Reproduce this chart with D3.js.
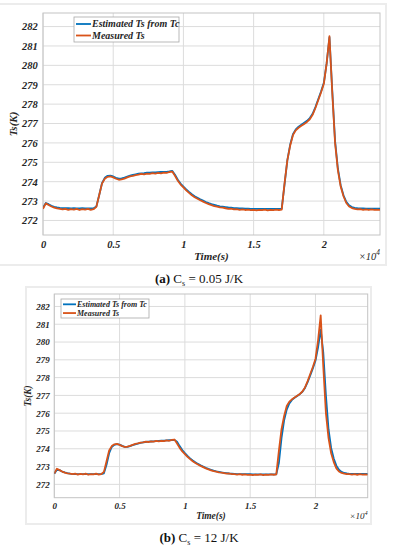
<!DOCTYPE html>
<html>
<head>
<meta charset="utf-8">
<script src="https://cdn.jsdelivr.net/npm/d3@7"></script>
<style>
  body { margin: 0; background: #fff; }
  svg { display: block; }
  .tick text { font-family: "Liberation Serif", "Times New Roman", serif; font-weight: bold; font-style: italic; fill: #262626; }
</style>
</head>
<body>
<div id="chart"></div>
<script>
// sample times (s), shared by every series
const time = d3.range(0, 24001, 200);

// measured surface temperature (K), same measurement in both panels
const measuredTs = [
  272.60, 272.88, 272.80, 272.72, 272.66, 272.62, 272.60, 272.57, 272.60, 272.55,
  272.59, 272.56, 272.60, 272.54, 272.58, 272.56, 272.60, 272.55, 272.58, 272.70,
  273.30, 273.90, 274.15, 274.25, 274.27, 274.22, 274.15, 274.10, 274.12, 274.16,
  274.22, 274.27, 274.30, 274.34, 274.36, 274.40, 274.38, 274.42, 274.40, 274.44,
  274.42, 274.45, 274.43, 274.47, 274.45, 274.50, 274.52, 274.30, 274.05, 273.85,
  273.70, 273.55, 273.42, 273.30, 273.20, 273.12, 273.04, 272.97, 272.90, 272.84,
  272.79, 272.74, 272.71, 272.67, 272.66, 272.63, 272.60, 272.61, 272.57, 272.58,
  272.55, 272.57, 272.54, 272.56, 272.53, 272.55, 272.52, 272.55, 272.53, 272.56,
  272.52, 272.55, 272.53, 272.56, 272.54, 272.56, 273.90, 275.10, 275.85, 276.40,
  276.65, 276.78, 276.88, 276.98, 277.08, 277.22, 277.45, 277.80, 278.20, 278.60,
  279.05, 280.10, 281.50, 278.60, 276.00, 274.60, 273.75, 273.25, 272.90, 272.72,
  272.64, 272.60, 272.57, 272.58, 272.55, 272.57, 272.54, 272.57, 272.55, 272.56,
  272.55
];

// estimated Ts from Tc, Cs = 0.05 J/K
const estimatedA = [
  272.65, 272.90, 272.84, 272.76, 272.70, 272.67, 272.65, 272.64, 272.63, 272.63,
  272.62, 272.63, 272.62, 272.62, 272.63, 272.62, 272.62, 272.62, 272.63, 272.72,
  273.30, 273.92, 274.20, 274.30, 274.31, 274.27, 274.20, 274.16, 274.17, 274.21,
  274.26, 274.31, 274.35, 274.38, 274.41, 274.43, 274.44, 274.46, 274.47, 274.48,
  274.48, 274.49, 274.50, 274.51, 274.51, 274.53, 274.56, 274.36, 274.10, 273.90,
  273.75, 273.60, 273.47, 273.35, 273.25, 273.17, 273.09, 273.02, 272.95, 272.89,
  272.84, 272.80, 272.76, 272.73, 272.71, 272.69, 272.67, 272.66, 272.64, 272.63,
  272.62, 272.62, 272.61, 272.61, 272.60, 272.60, 272.60, 272.60, 272.60, 272.60,
  272.60, 272.60, 272.60, 272.60, 272.60, 272.61, 273.85, 275.10, 275.90, 276.45,
  276.70, 276.84, 276.94, 277.04, 277.14, 277.28, 277.50, 277.85, 278.25, 278.65,
  279.10, 280.10, 281.45, 278.70, 276.10, 274.68, 273.82, 273.30, 272.96, 272.78,
  272.69, 272.65, 272.63, 272.62, 272.62, 272.61, 272.61, 272.61, 272.61, 272.61,
  272.61
];

// estimated Ts from Tc, Cs = 12 J/K
const estimatedB = [
  272.60, 272.82, 272.80, 272.72, 272.67, 272.63, 272.60, 272.58, 272.58, 272.58,
  272.58, 272.58, 272.58, 272.58, 272.58, 272.58, 272.58, 272.58, 272.58, 272.62,
  273.10, 273.75, 274.10, 274.22, 274.26, 274.23, 274.16, 274.11, 274.11, 274.15,
  274.20, 274.25, 274.29, 274.33, 274.36, 274.38, 274.40, 274.41, 274.42, 274.43,
  274.44, 274.45, 274.46, 274.47, 274.48, 274.49, 274.50, 274.40, 274.15, 273.93,
  273.76, 273.60, 273.46, 273.34, 273.24, 273.15, 273.07, 273.00, 272.93, 272.87,
  272.82, 272.77, 272.73, 272.70, 272.67, 272.65, 272.63, 272.61, 272.60, 272.59,
  272.58, 272.58, 272.57, 272.57, 272.57, 272.57, 272.56, 272.56, 272.56, 272.56,
  272.56, 272.56, 272.56, 272.56, 272.56, 272.56, 273.20, 274.60, 275.60, 276.20,
  276.55, 276.75, 276.87, 276.97, 277.07, 277.20, 277.42, 277.75, 278.12, 278.52,
  278.95, 279.70, 280.70, 279.40, 277.00, 275.10, 274.05, 273.45, 273.05, 272.82,
  272.70, 272.64, 272.61, 272.59, 272.59, 272.59, 272.59, 272.59, 272.59, 272.59,
  272.59
];

const yTicks = [272, 273, 274, 275, 276, 277, 278, 279, 280, 281, 282];
const xTicks = [0, 5000, 10000, 15000, 20000];
const xTickLabels = ["0", "0.5", "1", "1.5", "2"];
const seriesNames = ["Estimated Ts from Tc", "Measured Ts"];
const captions = [["(a)", "0.05 J/K"], ["(b)", "12 J/K"]];

const W = 396, H = 550;
const blue = "#0072BD", orange = "#D95319";
const serif = "'Liberation Serif', 'Times New Roman', serif";

const svg = d3.select("#chart").append("svg")
  .attr("width", W).attr("height", H);

function drawPanel(p) {
  const x = d3.scaleLinear().domain([0, 24000]).range([p.left, p.right]);
  const y = d3.scaleLinear().domain([271.25, 282.7]).range([p.bottom, p.top]);
  const g = svg.append("g");

  // faint figure frame
  g.append("rect")
    .attr("x", p.frame[0]).attr("y", p.frame[1])
    .attr("width", p.frame[2]).attr("height", p.frame[3])
    .attr("fill", "none").attr("stroke", "#ececec").attr("stroke-width", 2);

  // grid
  g.selectAll("line.gy").data(yTicks).enter().append("line")
    .attr("x1", p.left).attr("x2", p.right)
    .attr("y1", d => y(d)).attr("y2", d => y(d))
    .attr("stroke", "#dcdcdc").attr("stroke-width", 1);
  g.selectAll("line.gx").data(xTicks).enter().append("line")
    .attr("y1", p.top).attr("y2", p.bottom)
    .attr("x1", d => x(d)).attr("x2", d => x(d))
    .attr("stroke", "#dcdcdc").attr("stroke-width", 1);

  g.append("rect")
    .attr("x", p.left).attr("y", p.top)
    .attr("width", p.right - p.left).attr("height", p.bottom - p.top)
    .attr("fill", "none").attr("stroke", "#c4c4c4").attr("stroke-width", 1);

  // axes
  const yAxis = d3.axisLeft(y).tickValues(yTicks).tickSize(0).tickPadding(p.fs * 0.5);
  const ya = g.append("g").attr("transform", `translate(${p.left},0)`).call(yAxis);
  const xAxis = d3.axisBottom(x).tickValues(xTicks).tickSize(0).tickPadding(p.fs * 0.55)
    .tickFormat((d, i) => xTickLabels[i]);
  const xa = g.append("g").attr("transform", `translate(0,${p.bottom})`).call(xAxis);
  [ya, xa].forEach(a => {
    a.select(".domain").remove();
    a.selectAll("text").style("font-size", p.fs + "px");
  });

  g.append("text")
    .attr("x", (p.left + p.right) / 2).attr("y", p.bottom + p.fs * 2.35)
    .attr("text-anchor", "middle")
    .style("font-family", serif).style("font-weight", "bold").style("font-style", "italic")
    .style("font-size", (p.fs * 1.05) + "px").attr("fill", "#262626")
    .text("Time(s)");

  const mult = g.append("text")
    .attr("x", p.right).attr("y", p.bottom + p.fs * 2.35)
    .attr("text-anchor", "end")
    .style("font-family", serif).style("font-style", "italic")
    .style("font-size", p.fs + "px").attr("fill", "#262626");
  mult.append("tspan").text("\u00d710");
  mult.append("tspan").attr("dy", -p.fs * 0.4).style("font-size", (p.fs * 0.7) + "px").text("4");

  g.append("text")
    .attr("transform", `translate(${p.ylabX},${(p.top + p.bottom) / 2}) rotate(-90)`)
    .attr("text-anchor", "middle")
    .style("font-family", serif).style("font-weight", "bold").style("font-style", "italic")
    .style("font-size", (p.fs * 1.05) + "px").attr("fill", "#262626")
    .text("Ts(K)");

  // lines
  const rows = time.map((t, i) => ({ t: t, m: measuredTs[i], e: p.est[i] }));
  const clip = "clip" + p.id;
  svg.append("clipPath").attr("id", clip).append("rect")
    .attr("x", p.left).attr("y", p.top)
    .attr("width", p.right - p.left).attr("height", p.bottom - p.top);
  g.append("path").datum(rows)
    .attr("clip-path", `url(#${clip})`)
    .attr("fill", "none").attr("stroke", blue).attr("stroke-width", 1.8)
    .attr("stroke-linejoin", "round")
    .attr("d", d3.line().x(d => x(d.t)).y(d => y(d.e)));
  g.append("path").datum(rows)
    .attr("clip-path", `url(#${clip})`)
    .attr("fill", "none").attr("stroke", orange).attr("stroke-width", 1.8)
    .attr("stroke-linejoin", "round")
    .attr("d", d3.line().x(d => x(d.t)).y(d => y(d.m)));

  // legend
  const L = p.legend;
  g.append("rect")
    .attr("x", L.x).attr("y", L.y).attr("width", L.w).attr("height", L.h)
    .attr("fill", "#fff").attr("stroke", "#a8a8a8").attr("stroke-width", 0.8);
  [blue, orange].forEach((c, i) => {
    const cy = L.y + L.h * (i === 0 ? 0.28 : 0.74);
    g.append("line")
      .attr("x1", L.x + 2).attr("x2", L.x + L.line)
      .attr("y1", cy).attr("y2", cy)
      .attr("stroke", c).attr("stroke-width", 1.8);
    g.append("text")
      .attr("x", L.x + L.line + 1).attr("y", cy).attr("dy", "0.33em")
      .style("font-family", serif).style("font-weight", "bold").style("font-style", "italic")
      .style("font-size", L.fs + "px").attr("fill", "#262626")
      .text(seriesNames[i]);
  });

  // caption
  const cap = svg.append("text")
    .attr("x", p.capX).attr("y", p.capY)
    .attr("text-anchor", "middle")
    .style("font-family", serif).style("font-size", "13px").attr("fill", "#111");
  cap.append("tspan").style("font-weight", "bold").text(p.caption[0]);
  cap.append("tspan").text(" C");
  cap.append("tspan").attr("dy", 3).style("font-size", "8px").text("s");
  cap.append("tspan").attr("dy", -3).text(" = " + p.caption[1]);
}

drawPanel({
  id: "a", left: 43, right: 380, top: 13, bottom: 235, fs: 10.5, ylabX: 17,
  frame: [-2, 4, 388, 261], est: estimatedA,
  legend: { x: 74, y: 17, w: 105, h: 25, line: 17, fs: 10 },
  caption: captions[0], capX: 199, capY: 283
});

drawPanel({
  id: "b", left: 54.3, right: 367.7, top: 294, bottom: 497.7, fs: 9, ylabX: 31,
  frame: [26, 287, 345, 237], est: estimatedB,
  legend: { x: 61, y: 299, w: 88, h: 19, line: 15, fs: 8 },
  caption: captions[1], capX: 199, capY: 542
});
</script>
</body>
</html>
